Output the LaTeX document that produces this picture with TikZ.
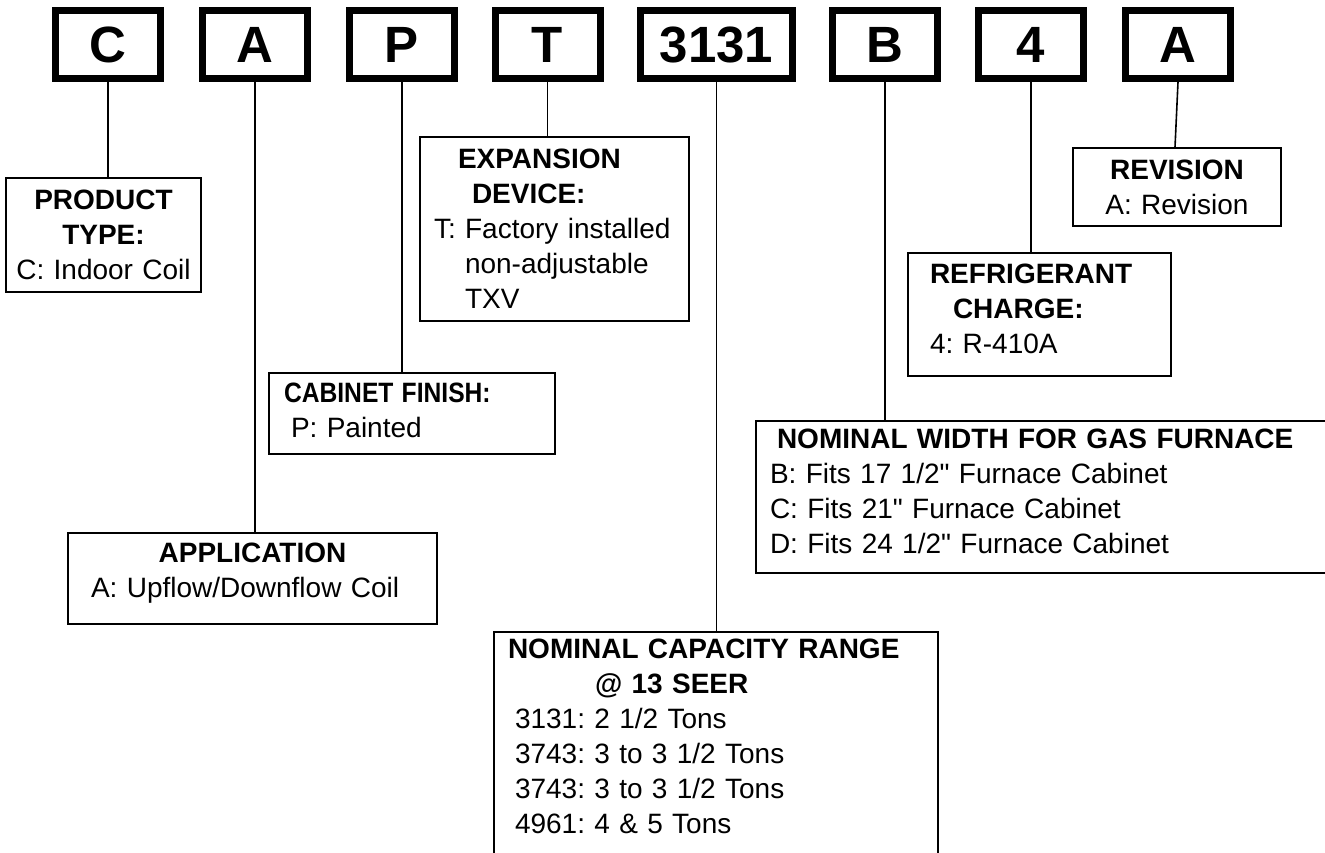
\documentclass[tikz,border=0pt]{standalone}
\usepackage{fontspec}
\setmainfont{Liberation Sans}[Ligatures=TeXOff]
\usepackage{graphicx}
\frenchspacing
\tikzset{codebox/.style={draw, line width=7pt, inner sep=0pt, minimum width=105pt, minimum height=68pt, font=\fontsize{51}{51}\selectfont\bfseries}}
\tikzset{infobox/.style={draw, line width=1.6pt, inner sep=0pt, align=left, font=\fontsize{28}{35}\selectfont\frenchspacing}}
\tikzset{link/.style={line width=1.6pt}}

\begin{document}
\begin{tikzpicture}[x=1pt, y=-1pt]

\clip (0,0) rectangle (1325,853);

  % code boxes

  \node [style = codebox] (type) at (108, 44.5) {C};
  \node [style = codebox] (appl) at (255, 44.5) {A};
  \node [style = codebox] (finish) at (402, 44.5) {P};
  \node [style = codebox] (device) at (547.5, 44.5) {T};
  \node [style = codebox, minimum width=152pt] (capacity) at (716.5, 44.5) {3131};
  \node [style = codebox] (width) at (885, 44.5) {B};
  \node [style = codebox] (charge) at (1031, 44.5) {4};
  \node [style = codebox] (revision) at (1178, 44.5) {A};

  % info boxes

  \node [style = infobox, align=center, minimum width=195pt, minimum height=114pt, text width=195pt] (typeinfo) at (103.5, 235)
    {\textbf{PRODUCT}\\\textbf{TYPE:}\\C: Indoor Coil};
  \node [style = infobox, minimum width=369pt, minimum height=91pt, text width=369pt] (applinfo) at (252.5, 578.5)
    {{\centering\textbf{APPLICATION}\par}\hspace*{23pt}A: Upflow/Downflow Coil\rule[-16pt]{0pt}{0pt}};
  \node [style = infobox, minimum width=286pt, minimum height=81pt, text width=286pt] (finishinfo) at (412, 413.5)
    {\hspace*{15pt}\scalebox{0.88}[1]{\bfseries CABINET FINISH:}\par\hspace*{22pt}P: Painted\rule[-7pt]{0pt}{0pt}};
  \node [style = infobox, minimum width=269pt, minimum height=184pt, text width=269pt] (deviceinfo) at (554.5, 229)
    {\hspace*{38pt}\textbf{EXPANSION}\par\hspace*{52pt}\textbf{DEVICE:}\par\hspace*{14pt}T: Factory installed\par\hspace*{45pt}non-adjustable\par\hspace*{45pt}TXV};
  \node [style = infobox, minimum width=444pt, minimum height=248pt, text width=444pt] (capinfo) at (716, 756)
    {\hspace*{14pt}\textbf{NOMINAL CAPACITY RANGE}\par\hspace*{101pt}\textbf{@ 13 SEER}\par\hspace*{21pt}3131: 2 1/2 Tons\par\hspace*{21pt}3743: 3 to 3 1/2 Tons\par\hspace*{21pt}3743: 3 to 3 1/2 Tons\par\hspace*{21pt}4961: 4 \& 5 Tons\rule[-40pt]{0pt}{0pt}};
  \node [style = infobox, minimum width=589pt, minimum height=152pt, text width=589pt] (widthinfo) at (1050.5, 497)
    {\hspace*{21pt}\textbf{NOMINAL WIDTH FOR GAS FURNACE}\par\hspace*{14pt}B: Fits 17 1/2" Furnace Cabinet\par\hspace*{14pt}C: Fits 21" Furnace Cabinet\par\hspace*{14pt}D: Fits 24 1/2" Furnace Cabinet\rule[-12pt]{0pt}{0pt}};
  \node [style = infobox, minimum width=263pt, minimum height=123pt, text width=263pt] (chargeinfo) at (1039.5, 314.5)
    {\hspace*{22pt}\textbf{REFRIGERANT}\par\hspace*{45pt}\textbf{CHARGE:}\par\hspace*{22pt}4: R-410A\rule[-12pt]{0pt}{0pt}};
  \node [style = infobox, align=center, minimum width=208pt, minimum height=78pt, text width=208pt] (revinfo) at (1177, 187)
    {\textbf{REVISION}\\A: Revision};

  %  edges
  \draw [style = link] (type.south) to (type.south |- typeinfo.north);
  \draw [style = link] (appl.south) to (appl.south |- applinfo.north);
  \draw [style = link] (finish.south) to (finish.south |- finishinfo.north);
  \draw [style = link] (device.south) to (device.south |- deviceinfo.north);
  \draw [style = link] (capacity.south) to (capacity.south |- capinfo.north);
  \draw [style = link] (width.south) to (width.south |- widthinfo.north);
  \draw [style = link] (charge.south) to (charge.south |- chargeinfo.north);
  \draw [style = link] (revision.south) to ([xshift=-3pt]revision.south |- revinfo.north);

\end{tikzpicture}
\end{document}
